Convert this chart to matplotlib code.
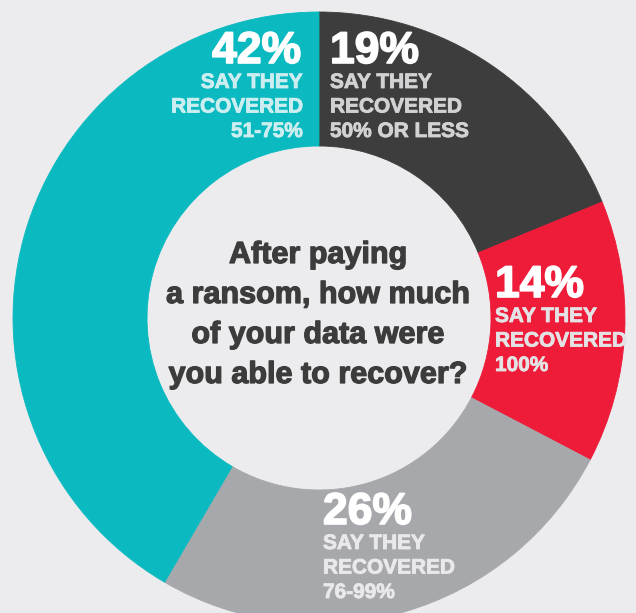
import matplotlib
matplotlib.use("Agg")
import matplotlib.pyplot as plt
import matplotlib.patheffects as pe

# ---------- data ----------
shares = [19, 14, 26, 42]
big_labels = ["19%", "14%", "26%", "42%"]
sub_labels = [
    ["SAY THEY", "RECOVERED", "50% OR LESS"],
    ["SAY THEY", "RECOVERED", "100%"],
    ["SAY THEY", "RECOVERED", "76-99%"],
    ["SAY THEY", "RECOVERED", "51-75%"],
]
question = ["After paying", "a ransom, how much", "of your data were",
            "you able to recover?"]

# ---------- style ----------
BG = "#ECECEE"
colors = ["#3D3D3D", "#EE1B39", "#A7A8AC", "#0ABAC0"]
sub_colors = ["#D2D2D4", "#E4E2E4", "#E9E9EB", "#CDEEF0"]
W, H = 636, 613
CX, CY = 319, 318          # centre in pixel coords (from top)
R_OUT, R_IN = 306, 172

plt.rcParams["font.family"] = ["Liberation Sans", "DejaVu Sans"]


def heavy(c, lw=0.9):
    # fake a heavier weight than Liberation Sans Bold
    return [pe.withStroke(linewidth=lw, foreground=c)]


fig = plt.figure(figsize=(W / 100, H / 100), dpi=100, facecolor=BG)
ax = fig.add_axes([0, 0, 1, 1])
ax.set_facecolor(BG)

wedges, _ = ax.pie(shares, colors=colors, startangle=90, counterclock=False,
                   center=(CX, H - CY), radius=R_OUT,
                   wedgeprops=dict(width=R_OUT - R_IN, linewidth=0.6))
for w in wedges:
    w.set_edgecolor(w.get_facecolor())
ax.set_xlim(0, W)
ax.set_ylim(0, H)
ax.set_aspect("equal")
ax.axis("off")

# label anchors: (x, baseline of big number, alignment), in pixels from top
anchors = [(330, 63, "left"), (495, 297, "left"), (323, 524, "left"),
           (301, 63, "right")]
for (x, y, ha), big, subs, sc in zip(anchors, big_labels, sub_labels, sub_colors):
    ax.text(x, H - y, big, ha=ha, va="baseline", fontsize=32,
            fontweight="bold", color="white", path_effects=heavy("white", 1.2))
    for i, s in enumerate(subs):
        ax.text(x + (2 if ha == "right" else 0), H - (y + 25 + 24.5 * i), s,
                ha=ha, va="baseline", fontsize=15, fontweight="bold", color=sc,
                path_effects=heavy(sc, 0.6))

# centre question
for i, line in enumerate(question):
    ax.text(318, H - (263 + 40 * i), line, ha="center", va="baseline",
            fontsize=22, fontweight="bold", color="#3C3C3C",
            path_effects=heavy("#3C3C3C", 0.9))

fig.savefig("out.png", dpi=100, facecolor=BG)
